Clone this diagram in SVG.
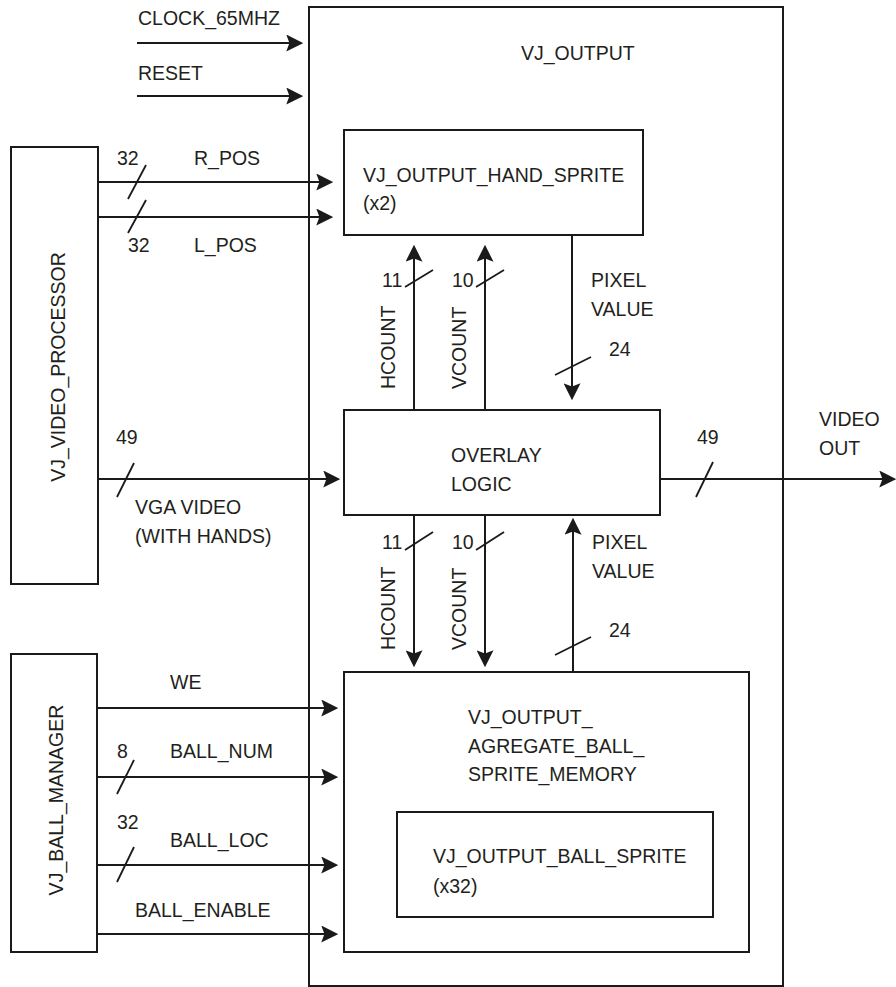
<svg xmlns="http://www.w3.org/2000/svg" width="896" height="987" viewBox="0 0 896 987">
<style>
.box{fill:none;stroke:#1a1a1a;stroke-width:2}
.ln{fill:none;stroke:#1a1a1a;stroke-width:2}
.arr{fill:none;stroke:#1a1a1a;stroke-width:2;marker-end:url(#ah)}
.sl{fill:none;stroke:#1a1a1a;stroke-width:1.8}
text{font-family:"Liberation Sans",Arial,sans-serif;font-size:19.5px;fill:#231f20}
.m{text-anchor:middle}
</style>
<defs>
<marker id="ah" markerUnits="userSpaceOnUse" markerWidth="17" markerHeight="17" viewBox="0 0 16 16" refX="12" refY="8" orient="auto">
<path d="M0,0 L16,8 L0,16 L3,8 Z" fill="#1a1a1a"/>
</marker>
</defs>
<rect width="896" height="987" fill="#fff"/>

<g id="vj_output">
<rect class="box" x="309" y="7" width="474" height="979"/>
<text x="521" y="60">VJ_OUTPUT</text>
</g>

<g id="vj_video_processor">
<rect class="box" x="11" y="147" width="87" height="437"/>
<text class="m" transform="translate(65,367) rotate(-90)">VJ_VIDEO_PROCESSOR</text>
</g>

<g id="vj_ball_manager">
<rect class="box" x="11" y="654" width="86" height="298"/>
<text class="m" transform="translate(63,800) rotate(-90)">VJ_BALL_MANAGER</text>
</g>

<g id="hand_sprite">
<rect class="box" x="344" y="130" width="299" height="105"/>
<text x="363" y="182">VJ_OUTPUT_HAND_SPRITE</text>
<text x="363" y="210">(x2)</text>
</g>

<g id="overlay_logic">
<rect class="box" x="344" y="410" width="316" height="105"/>
<text x="451" y="462">OVERLAY</text>
<text x="451" y="491">LOGIC</text>
</g>

<g id="ball_memory">
<rect class="box" x="344" y="672" width="405" height="280"/>
<text x="468" y="724">VJ_OUTPUT_</text>
<text x="468" y="753">AGREGATE_BALL_</text>
<text x="468" y="781">SPRITE_MEMORY</text>
</g>

<g id="ball_sprite">
<rect class="box" x="397" y="812" width="316" height="105"/>
<text x="433" y="863">VJ_OUTPUT_BALL_SPRITE</text>
<text x="433" y="893">(x32)</text>
</g>

<g id="connectors">
<!-- clock / reset -->
<line class="arr" x1="137" y1="43" x2="299" y2="43"/>
<text x="138" y="25">CLOCK_65MHZ</text>
<line class="arr" x1="137" y1="96" x2="299" y2="96"/>
<text x="138" y="80">RESET</text>

<!-- R_POS / L_POS -->
<line class="arr" x1="98" y1="182" x2="329" y2="182"/>
<line class="sl" x1="128" y1="199" x2="146" y2="165"/>
<text x="117" y="165">32</text>
<text x="194" y="165">R_POS</text>
<line class="arr" x1="98" y1="217" x2="329" y2="217"/>
<line class="sl" x1="128" y1="233" x2="146" y2="200"/>
<text x="128" y="252">32</text>
<text x="194" y="252">L_POS</text>

<!-- upper HCOUNT / VCOUNT -->
<line class="arr" x1="414" y1="410" x2="414" y2="249"/>
<line class="sl" x1="405" y1="287" x2="433" y2="270"/>
<text x="382" y="287">11</text>
<text transform="translate(395,389) rotate(-90)">HCOUNT</text>
<line class="arr" x1="485" y1="410" x2="485" y2="249"/>
<line class="sl" x1="476" y1="287" x2="504" y2="270"/>
<text x="452" y="287">10</text>
<text transform="translate(466,389) rotate(-90)">VCOUNT</text>

<!-- upper pixel value -->
<line class="arr" x1="572" y1="235" x2="572" y2="396"/>
<line class="sl" x1="555" y1="375" x2="591" y2="357"/>
<text x="609" y="356">24</text>
<text x="591" y="287">PIXEL</text>
<text x="591" y="316">VALUE</text>

<!-- VGA video in -->
<line class="arr" x1="98" y1="479" x2="336" y2="479"/>
<line class="sl" x1="117" y1="497" x2="134" y2="463"/>
<text x="116" y="444">49</text>
<text x="135" y="514">VGA VIDEO</text>
<text x="135" y="543">(WITH HANDS)</text>

<!-- video out -->
<line class="arr" x1="660" y1="479" x2="892" y2="479"/>
<line class="sl" x1="696" y1="497" x2="713" y2="462"/>
<text x="697" y="444">49</text>
<text x="819" y="426">VIDEO</text>
<text x="819" y="455">OUT</text>

<!-- lower HCOUNT / VCOUNT -->
<line class="arr" x1="414" y1="515" x2="414" y2="663"/>
<line class="sl" x1="405" y1="550" x2="433" y2="532"/>
<text x="382" y="549">11</text>
<text transform="translate(395,650) rotate(-90)">HCOUNT</text>
<line class="arr" x1="485" y1="515" x2="485" y2="663"/>
<line class="sl" x1="476" y1="550" x2="504" y2="532"/>
<text x="452" y="549">10</text>
<text transform="translate(466,650) rotate(-90)">VCOUNT</text>

<!-- lower pixel value -->
<line class="arr" x1="573" y1="672" x2="573" y2="522"/>
<line class="sl" x1="555" y1="655" x2="591" y2="637"/>
<text x="609" y="637">24</text>
<text x="592" y="549">PIXEL</text>
<text x="592" y="578">VALUE</text>

<!-- ball manager signals -->
<line class="arr" x1="97" y1="708" x2="334" y2="708"/>
<text x="170" y="689">WE</text>
<line class="arr" x1="97" y1="777" x2="334" y2="777"/>
<line class="sl" x1="117" y1="794" x2="134" y2="760"/>
<text x="117" y="758">8</text>
<text x="170" y="758">BALL_NUM</text>
<line class="arr" x1="97" y1="865" x2="334" y2="865"/>
<line class="sl" x1="117" y1="882" x2="134" y2="847"/>
<text x="117" y="829">32</text>
<text x="170" y="847">BALL_LOC</text>
<line class="arr" x1="97" y1="934" x2="334" y2="934"/>
<text x="135" y="917">BALL_ENABLE</text>
</g>
</svg>
